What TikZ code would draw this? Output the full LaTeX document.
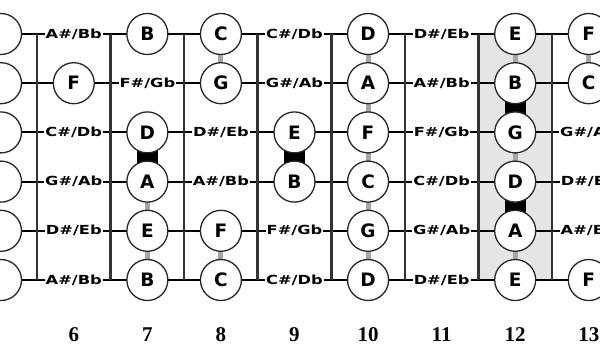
\documentclass[tikz,border=0pt]{standalone}
\usepackage{fontspec}
\setmainfont{DejaVu Sans}
\newfontfamily\notefont{DejaVu Sans}
\newfontfamily\sharpfont[FakeStretch=1.3]{DejaVu Sans}
\newfontfamily\numfont{Liberation Serif}
\pgfdeclarelayer{background}
\pgfsetlayers{background,main}
\tikzset{
  nat/.style={circle, draw=black!85, line width=1.3pt, fill=white, minimum size=41pt, inner sep=0pt,
    font=\notefont\bfseries\fontsize{18.5}{18.5}\selectfont},
  shp/.style={fill=white, inner sep=1pt, font=\sharpfont\bfseries\fontsize{12.5}{12.5}\selectfont},
  num/.style={font=\numfont\bfseries\fontsize{21}{21}\selectfont},
  stringline/.style={line width=2pt, black},
  fretline/.style={line width=2.6pt, black!80},
  blackbar/.style={fill=black},
  graybar/.style={fill=black!35},
  shade12/.style={fill=black!10},
}
\newcommand\natn[3]{\node[nat] (n-#1-#2) at ({37+(#1-5.5)*73.57},{34+(#2-1)*49.2}) {#3};}
\newcommand\shpn[3]{\node[shp] (n-#1-#2) at ({37+(#1-5.5)*73.57},{34+(#2-1)*49.2}) {#3};}
\newcommand\bbar[3]{\fill[blackbar] ([xshift=-10.5pt]n-#1-#2.center) rectangle ([xshift=10.5pt]n-#1-#3.center);}
\newcommand\gbar[3]{\fill[graybar] ([xshift=-2.5pt]n-#1-#2.center) rectangle ([xshift=2.5pt]n-#1-#3.center);}
\begin{document}
\begin{tikzpicture}[x=1pt,y=-1pt]
\useasboundingbox (0,0) rectangle (600,346);
\clip (0,0) rectangle (600,346);
% fret coordinates
\foreach \j in {5,...,12}{
  \coordinate (f-\j-t) at ({37+(\j-5)*73.57},34);
  \coordinate (f-\j-b) at ({37+(\j-5)*73.57},280);
}
% column 5 (only the right edges of its circles show)
\foreach \r in {1,...,6}{
  \node[nat] (n-5-\r) at (1,{34+(\r-1)*49.2}) {};
}
% row 1
\shpn{6}{1}{A\#/Bb}\natn{7}{1}{B}\natn{8}{1}{C}\shpn{9}{1}{C\#/Db}
\natn{10}{1}{D}\shpn{11}{1}{D\#/Eb}\natn{12}{1}{E}\natn{13}{1}{F}
% row 2
\natn{6}{2}{F}\shpn{7}{2}{F\#/Gb}\natn{8}{2}{G}\shpn{9}{2}{G\#/Ab}
\natn{10}{2}{A}\shpn{11}{2}{A\#/Bb}\natn{12}{2}{B}\natn{13}{2}{C}
% row 3
\shpn{6}{3}{C\#/Db}\natn{7}{3}{D}\shpn{8}{3}{D\#/Eb}\natn{9}{3}{E}
\natn{10}{3}{F}\shpn{11}{3}{F\#/Gb}\natn{12}{3}{G}\shpn{13}{3}{G\#/Ab}
% row 4
\shpn{6}{4}{G\#/Ab}\natn{7}{4}{A}\shpn{8}{4}{A\#/Bb}\natn{9}{4}{B}
\natn{10}{4}{C}\shpn{11}{4}{C\#/Db}\natn{12}{4}{D}\shpn{13}{4}{D\#/Eb}
% row 5
\shpn{6}{5}{D\#/Eb}\natn{7}{5}{E}\natn{8}{5}{F}\shpn{9}{5}{F\#/Gb}
\natn{10}{5}{G}\shpn{11}{5}{G\#/Ab}\natn{12}{5}{A}\shpn{13}{5}{A\#/Bb}
% row 6
\shpn{6}{6}{A\#/Bb}\natn{7}{6}{B}\natn{8}{6}{C}\shpn{9}{6}{C\#/Db}
\natn{10}{6}{D}\shpn{11}{6}{D\#/Eb}\natn{12}{6}{E}\natn{13}{6}{F}
% fret numbers
\foreach \k in {6,...,13}{
  \node[num] (num-\k) at ({37+(\k-5.5)*73.57},335) {\k};
}
\begin{pgfonlayer}{background}
  \fill[shade12] (f-11-t) rectangle (f-12-b);
  \foreach \r in {1,...,6}{
    \draw[stringline] (n-5-\r.center) -- ([xshift=30pt]n-13-\r.center);
  }
  \foreach \j in {5,...,12}{
    \draw[fretline] (f-\j-t) -- (f-\j-b);
  }
  % gray links
  \gbar{7}{4}{5}\gbar{7}{5}{6}
  \gbar{8}{1}{2}\gbar{8}{5}{6}
  \gbar{10}{1}{2}\gbar{10}{2}{3}\gbar{10}{3}{4}\gbar{10}{4}{5}\gbar{10}{5}{6}
  \gbar{12}{1}{2}\gbar{12}{3}{4}\gbar{12}{5}{6}
  \gbar{13}{1}{2}
  % black links
  \bbar{7}{3}{4}
  \bbar{9}{3}{4}
  \bbar{12}{2}{3}
  \bbar{12}{4}{5}
\end{pgfonlayer}
\end{tikzpicture}
\end{document}
